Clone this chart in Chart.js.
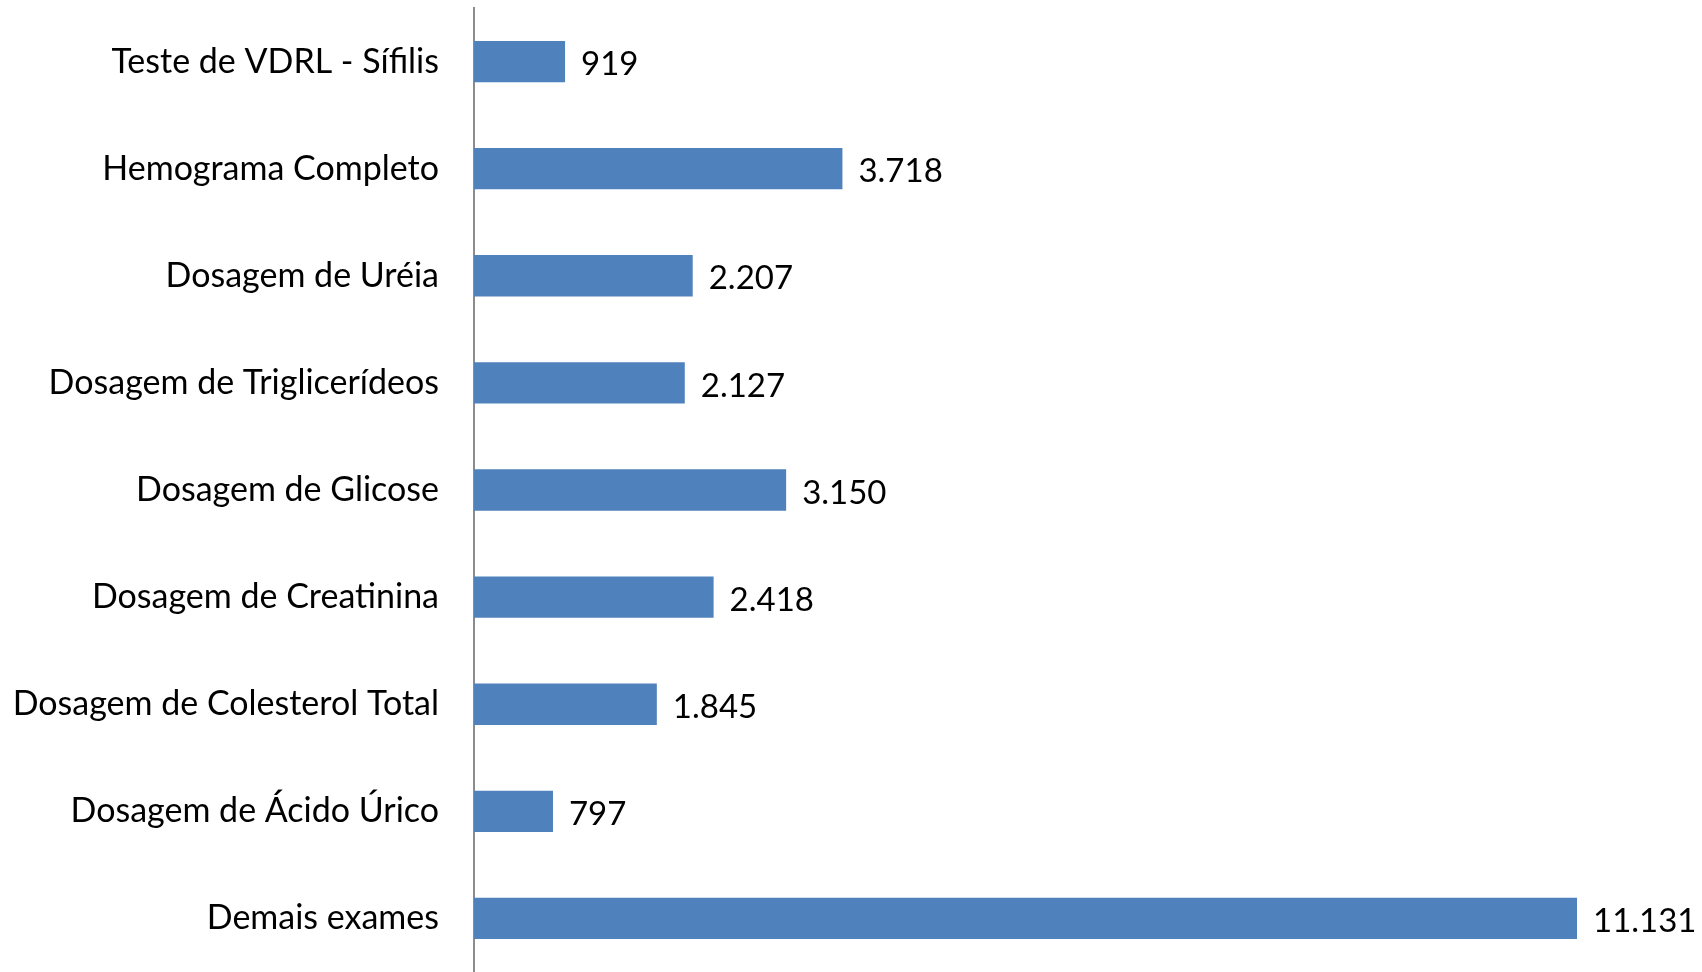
<!DOCTYPE html>
<html>
<head>
<meta charset="utf-8">
<script src="https://cdn.jsdelivr.net/npm/chart.js@4"></script>
<style>
    html, body { margin: 0; padding: 0; background: #fff; }
    #wrap { width: 1702px; height: 972px; }
</style>
</head>
<body>
<div id="wrap"><canvas id="examesChart"></canvas></div>
<script>
// Categorias e valores
const categories = [
    'Teste de VDRL - Sífilis',
    'Hemograma Completo',
    'Dosagem de Uréia',
    'Dosagem de Triglicerídeos',
    'Dosagem de Glicose',
    'Dosagem de Creatinina',
    'Dosagem de Colesterol Total',
    'Dosagem de Ácido Úrico',
    'Demais exames'
];
const values = [919, 3718, 2207, 2127, 3150, 2418, 1845, 797, 11131];

const FONT = 'Lato';

// formato brasileiro: 11.131
const fmt = v => String(v).replace(/\B(?=(\d{3})+(?!\d))/g, '.');

// Rótulos de valor à direita das barras
const valueLabels = {
    id: 'valueLabels',
    afterDatasetsDraw(chart) {
        const ctx = chart.ctx;
        const meta = chart.getDatasetMeta(0);
        ctx.save();
        ctx.font = '33px ' + FONT;
        ctx.fillStyle = '#000';
        ctx.textBaseline = 'middle';
        meta.data.forEach((bar, i) => {
            const txt = fmt(values[i]);
            const w = ctx.measureText(txt).width;
            let x = bar.x + 16;
            if (x + w > chart.width - 2) x = bar.x + 5;
            ctx.fillText(txt, x, bar.y + 3);
        });
        ctx.restore();
    }
};

new Chart(document.getElementById('examesChart'), {
    type: 'bar',
    data: {
        labels: categories,
        datasets: [{
            data: values,
            backgroundColor: '#4F81BD',
            barPercentage: 0.386,
            categoryPercentage: 1
        }]
    },
    options: {
        indexAxis: 'y',
        responsive: true,
        maintainAspectRatio: false,
        animation: false,
        layout: { padding: { top: 8, right: 125, bottom: 0, left: 0 } },
        plugins: {
            legend: { display: false },
            tooltip: { enabled: false }
        },
        scales: {
            x: {
                display: false,
                min: 0,
                max: Math.max(...values)
            },
            y: {
                afterFit: s => {
                    s.width = 474;
                    s.paddingTop = 0;
                    s.paddingBottom = 0;
                },
                grid: { display: false, drawTicks: false },
                border: { display: true, color: '#8c8c8c', width: 2 },
                ticks: {
                    color: '#000',
                    padding: 35,
                    font: { family: FONT, size: 34 }
                }
            }
        }
    },
    plugins: [valueLabels]
});
</script>
</body>
</html>
